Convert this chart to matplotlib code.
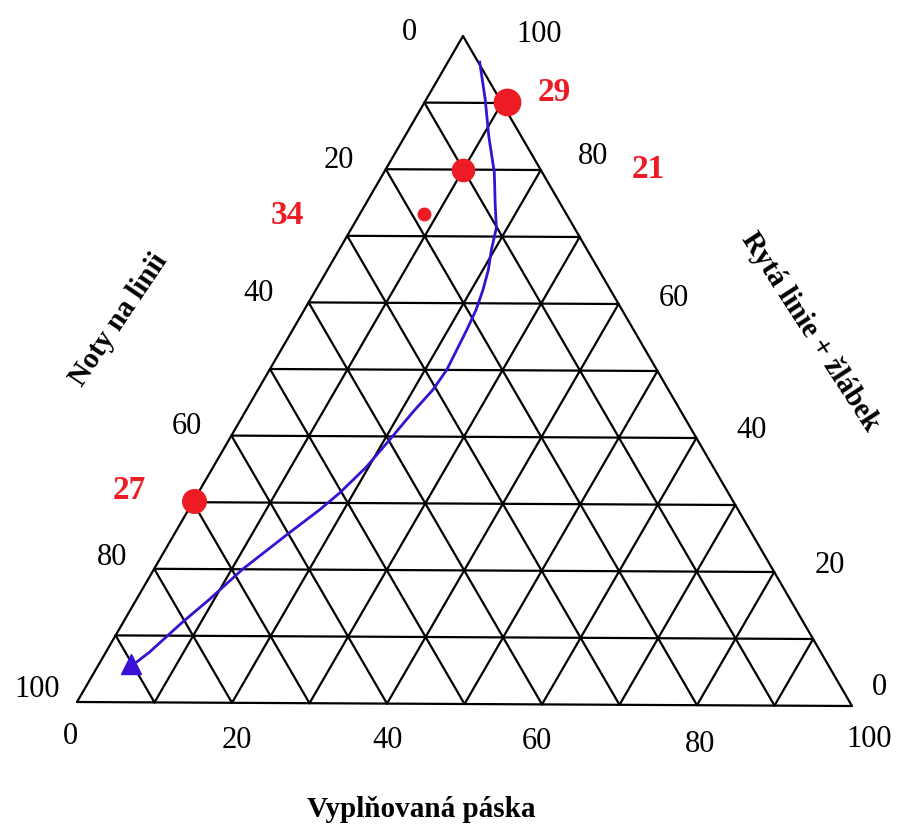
import matplotlib.pyplot as plt
import numpy as np

# ternary data in %: a = Vyplňovaná páska, b = Rytá linie + žlábek, c = Noty na linii (= 100 - a - b)
point_labels = ['29', '21', '34', '27']
point_vypl = [10.5, 10.0, 8.3, 0.0]
point_ryta = [90.2, 79.9, 73.3, 30.2]

curve_vypl = [4.1, 7.6, 10.8, 14.2, 16.6, 18.6, 19.6, 20.7, 21.5, 22.1, 22.4, 22.6,
              22.8, 22.5, 21.6, 20.6, 19.7, 18.2, 16.9, 14.7, 11.4, 9.4, 7.6, 5.6, 4.3]
curve_ryta = [96.1, 90.5, 85.0, 79.6, 75.0, 71.3, 68.0, 65.0, 62.0, 59.0, 56.0, 53.0,
              50.0, 47.0, 43.7, 39.2, 35.4, 31.5, 29.0, 25.5, 20.0, 15.5, 12.0, 7.5, 5.4]

ticks = [0, 20, 40, 60, 80, 100]
grid_steps = range(10, 100, 10)

title_bottom = 'Vyplňovaná páska'
title_left = 'Noty na linii'
title_right = 'Rytá linie + žlábek'

# layout: triangle corners in figure pixels
L = np.array([77.0, 703.0])
R = np.array([852.0, 707.0])
T = np.array([463.0, 37.0])

RED = '#ed1c24'
BLUE = '#3a10d2'
SERIF = ['Liberation Serif', 'DejaVu Serif']


def tern(a, b):
    a = np.asarray(a, dtype=float) / 100
    b = np.asarray(b, dtype=float) / 100
    c = 1 - a - b
    x = c * L[0] + a * R[0] + b * T[0]
    y = c * L[1] + a * R[1] + b * T[1]
    return x, y


fig = plt.figure(figsize=(9, 8.28), dpi=100)
ax = fig.add_axes([0, 0, 1, 1])
ax.set_xlim(0, 900)
ax.set_ylim(828, 0)
ax.axis('off')

gkw = dict(color='black', lw=1.6, solid_capstyle='round', zorder=1)

# outline
ox, oy = tern([0, 100, 0, 0], [0, 0, 100, 0])
ax.plot(ox, oy, **gkw)

# grid lines
for v in grid_steps:
    # constant Ryta (horizontal)
    x, y = tern([0, 100 - v], [v, v])
    ax.plot(x, y, **gkw)
    # constant Vyplnovana
    x, y = tern([v, v], [0, 100 - v])
    ax.plot(x, y, **gkw)
    # constant Noty
    x, y = tern([100 - v, 0], [0, 100 - v])
    ax.plot(x, y, **gkw)

# tick labels
tkw = dict(fontsize=22, family=SERIF, ha='center', va='center', color='black')
left_off = [(-54, -4), (-47, -10), (-50, -10), (-45, -10), (-42, -12), (-40, -13)]
right_off = [(27, -19), (56, -7), (55, -8), (55, -6), (52, -15), (76, -3)]
bottom_off = [(-7, 34), (5, 37), (1, 36), (-5, 36), (3, 38), (17, 33)]
for t, off in zip(ticks, left_off):
    x, y = tern(0, 100 - t)
    ax.text(x + off[0], y + off[1], str(t), **tkw)
for t, off in zip(ticks, right_off):
    x, y = tern(100 - t, t)
    ax.text(x + off[0], y + off[1], str(t), **tkw)
for t, off in zip(ticks, bottom_off):
    x, y = tern(t, 0)
    ax.text(x + off[0], y + off[1], str(t), **tkw)

# axis titles
hkw = dict(fontsize=21, family=SERIF, fontweight='bold', ha='center', va='center')
ax.text(421, 810, title_bottom, **hkw)
ax.text(119, 320, title_left, rotation=56, rotation_mode='anchor', **hkw)
ax.text(810, 332, title_right, rotation=-57, rotation_mode='anchor', **hkw)

# trajectory with arrow head
cx, cy = tern(curve_vypl, curve_ryta)
ax.plot(cx, cy, color=BLUE, lw=2.0, zorder=3)
ax.plot(cx[-1:], cy[-1:] - 2, marker='^', ms=14, color=BLUE, zorder=4)

# red points
point_ms = [19, 16, 9, 17]
label_off = [(48, -10), (185, -2), (-137, 0), (-64, -11)]
px, py = tern(point_vypl, point_ryta)
for i in range(len(point_labels)):
    ax.plot(px[i], py[i], 'o', ms=point_ms[i], color=RED, mec=RED, zorder=5)
    ax.text(px[i] + label_off[i][0], py[i] + label_off[i][1], point_labels[i],
            fontsize=24, family=SERIF, fontweight='bold', color=RED,
            ha='center', va='center')

fig.savefig('out.png', dpi=100)
